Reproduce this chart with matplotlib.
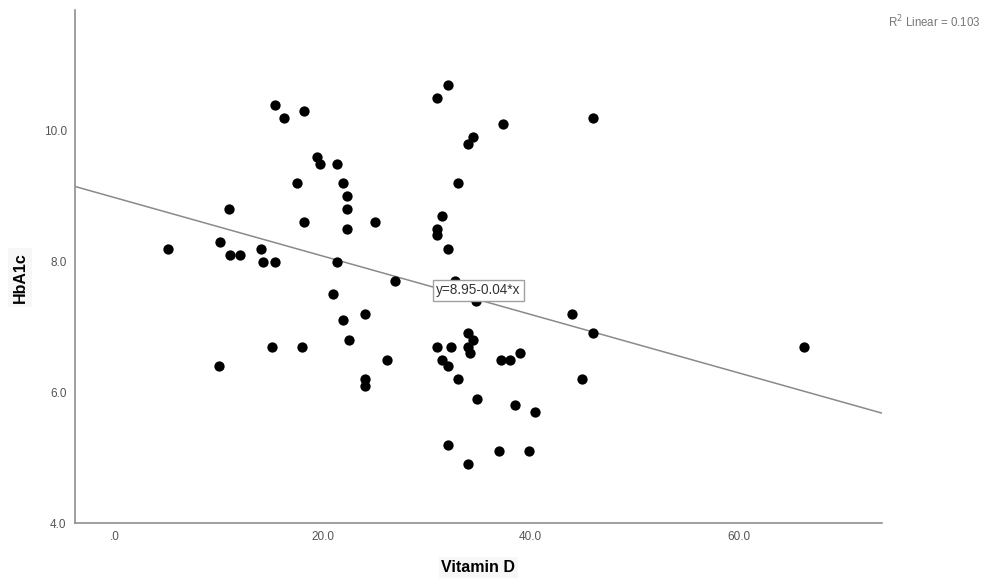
import numpy as np
import matplotlib
matplotlib.use("Agg")
import matplotlib.pyplot as plt

plt.rcParams['font.family'] = ['Liberation Sans', 'DejaVu Sans']

# valores (Vitamin D x HbA1c)
vitamin_d = [5.1, 10.0, 11.0, 10.1, 11.1, 12.1, 14.1, 14.3, 15.4, 15.1,
             15.4, 16.3, 18.2, 17.5, 18.2, 18.0, 19.5, 19.8, 21.4, 22.0,
             22.4, 22.4, 22.4, 21.4, 21.0, 22.0, 22.5, 24.1, 24.1, 24.1,
             25.0, 26.2, 27.0, 31.0, 32.1, 31.0, 31.0, 31.5, 32.1, 33.0,
             34.0, 34.5, 37.4, 46.0, 32.7, 34.8, 31.0, 32.4, 31.5, 32.1,
             34.0, 34.5, 34.0, 34.2, 33.0, 34.9, 37.2, 38.0, 39.0, 38.5,
             40.4, 32.1, 34.0, 37.0, 39.9, 44.0, 46.0, 45.0, 66.3]
hba1c = [8.2, 6.4, 8.8, 8.3, 8.1, 8.1, 8.2, 8.0, 8.0, 6.7,
         10.4, 10.2, 10.3, 9.2, 8.6, 6.7, 9.6, 9.5, 9.5, 9.2,
         9.0, 8.8, 8.5, 8.0, 7.5, 7.1, 6.8, 7.2, 6.2, 6.1,
         8.6, 6.5, 7.7, 10.5, 10.7, 8.5, 8.4, 8.7, 8.2, 9.2,
         9.8, 9.9, 10.1, 10.2, 7.7, 7.4, 6.7, 6.7, 6.5, 6.4,
         6.9, 6.8, 6.7, 6.6, 6.2, 5.9, 6.5, 6.5, 6.6, 5.8,
         5.7, 5.2, 4.9, 5.1, 5.1, 7.2, 6.9, 6.2, 6.7]

# reta de regressao como aparece no grafico
intercept = 8.98
slope = -0.0447
x_ticks = [0, 20, 40, 60]
x_tick_labels = ['.0', '20.0', '40.0', '60.0']
y_ticks = [4, 6, 8, 10]
y_tick_labels = ['4.0', '6.0', '8.0', '10.0']

fig = plt.figure(figsize=(9.87, 5.79), dpi=100)
ax = fig.add_axes([0.076, 0.0967, 0.8176, 0.886])

ax.scatter(vitamin_d, hba1c, s=55, color='black', zorder=3, linewidths=0)

xmin, xmax = -3.8, 73.8
xs = np.array([xmin, xmax])
ax.plot(xs, intercept + slope * xs, color='#8a8a8a', lw=1.1, zorder=2)

ax.set_xlim(xmin, xmax)
ax.set_ylim(4.0, 11.85)
ax.set_xticks(x_ticks)
ax.set_xticklabels(x_tick_labels)
ax.set_yticks(y_ticks)
ax.set_yticklabels(y_tick_labels)
ax.tick_params(length=0, labelsize=8.5, colors='#555555', pad=6)

for s in ['top', 'right']:
    ax.spines[s].set_visible(False)
for s in ['left', 'bottom']:
    ax.spines[s].set_color('#8f8f8f')
    ax.spines[s].set_linewidth(1.2)

ax.set_xlabel('Vitamin D', fontsize=11.5, fontweight='bold', labelpad=12,
              bbox=dict(facecolor='#f7f7f7', edgecolor='none', pad=2))
ax.set_ylabel('HbA1c', fontsize=11.5, fontweight='bold',
              bbox=dict(facecolor='#f7f7f7', edgecolor='none', pad=3))
ax.yaxis.set_label_coords(-0.068, 0.478)
ax.yaxis.label.set_va('center')

ax.text(35.0, 7.56, 'y=8.95-0.04*x', fontsize=9.8, ha='center', va='center',
        color='#333333', zorder=4,
        bbox=dict(facecolor='white', edgecolor='#a0a0a0', boxstyle='square,pad=0.25'))

fig.text(0.993, 0.962, 'R$^2$ Linear = 0.103', fontsize=8.3, color='#777777',
         ha='right', va='center')

fig.savefig('out.png', dpi=100)
